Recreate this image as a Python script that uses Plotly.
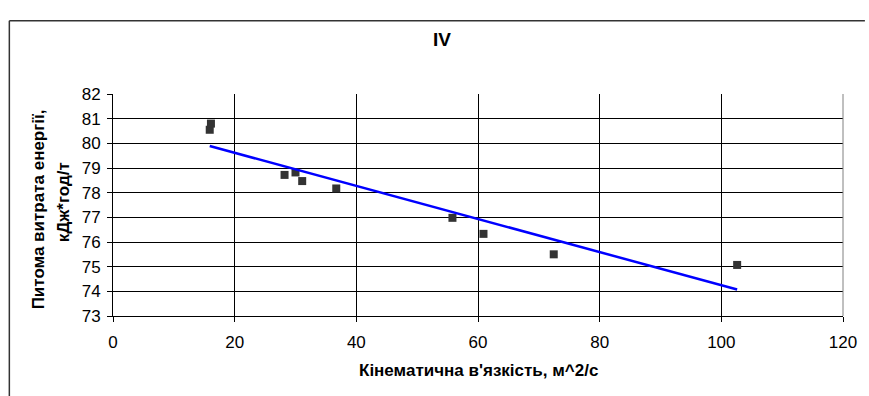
import numpy as np
import plotly.graph_objects as go

# Data
viscosity = [15.9, 16.1, 28.2, 30.0, 31.1, 36.7, 55.8, 60.9, 72.45, 102.6]
energy = [80.55, 80.8, 78.72, 78.82, 78.47, 78.17, 76.98, 76.33, 75.5, 75.07]
x_ticks = [0, 20, 40, 60, 80, 100, 120]
y_ticks = [73, 74, 75, 76, 77, 78, 79, 80, 81, 82]

chart_title = "IV"
x_title = "Кінематична в'язкість, м^2/с"
y_title_lines = ["Питома витрата енергії,", "кДж*год/т"]

# Linear trend line (least squares), spanning the data range
xs = np.array(viscosity)
ys = np.array(energy)
slope, intercept = np.polyfit(xs, ys, 1)
trend_x = [xs.min(), xs.max()]
trend_y = [slope * v + intercept for v in trend_x]

FONT = "Liberation Sans, Arial, sans-serif"

fig = go.Figure()
fig.add_trace(go.Scatter(
    x=viscosity, y=energy, mode="markers",
    marker=dict(symbol="square", size=8, color="#333333"),
    showlegend=False, hoverinfo="x+y"))
fig.add_trace(go.Scatter(
    x=trend_x, y=trend_y, mode="lines",
    line=dict(color="#0000FF", width=2.5),
    showlegend=False))

fig.update_layout(
    width=869, height=396,
    margin=dict(l=113, r=17, t=94, b=80),
    paper_bgcolor="white", plot_bgcolor="white",
    font=dict(family=FONT, size=17, color="black"),
    xaxis=dict(range=[0, 120], tickvals=x_ticks, showgrid=True,
               gridcolor="black", gridwidth=1, zeroline=False,
               showline=True, linecolor="black", linewidth=1,
               ticks="outside", ticklen=5, tickcolor="black",
               tickfont=dict(size=17), ticklabelstandoff=6,
               mirror=False, fixedrange=True),
    yaxis=dict(range=[73, 82], tickvals=y_ticks, showgrid=True,
               gridcolor="black", gridwidth=1, zeroline=False,
               showline=True, linecolor="black", linewidth=1,
               ticks="outside", ticklen=5, tickcolor="black",
               tickfont=dict(size=17), ticklabelstandoff=3,
               fixedrange=True),
    shapes=[
        # plot area right border (gray)
        dict(type="line", xref="paper", yref="paper", x0=1, x1=1, y0=0, y1=1,
             line=dict(color="#808080", width=1)),
        # chart area frame (left and top edges)
        dict(type="line", xref="paper", yref="paper", x0=-0.142, x1=-0.142,
             y0=-0.4, y1=1.33, line=dict(color="#333333", width=1.5)),
        dict(type="line", xref="paper", yref="paper", x0=-0.142, x1=1.03,
             y0=1.33, y1=1.33, line=dict(color="#333333", width=1.5)),
    ],
    annotations=[
        dict(text="<b>" + chart_title + "</b>", xref="paper", yref="paper",
             x=0.451, y=1.245, showarrow=False, font=dict(size=19),
             xanchor="center", yanchor="middle"),
        dict(text="<b>" + x_title + "</b>", xref="paper", yref="paper",
             x=0.5, y=-0.245, showarrow=False, font=dict(size=17),
             xanchor="center", yanchor="middle"),
        dict(text="<b>" + y_title_lines[0] + "</b>", xref="paper", yref="paper",
             x=-0.1015, y=0.48, showarrow=False, font=dict(size=17),
             xanchor="center", yanchor="middle", textangle=-90),
        dict(text="<b>" + y_title_lines[1] + "</b>", xref="paper", yref="paper",
             x=-0.0677, y=0.51, showarrow=False, font=dict(size=17),
             xanchor="center", yanchor="middle", textangle=-90),
    ],
)

fig.write_html("out.html", config={"displayModeBar": False},
               post_script="document.body.style.margin='0';")
